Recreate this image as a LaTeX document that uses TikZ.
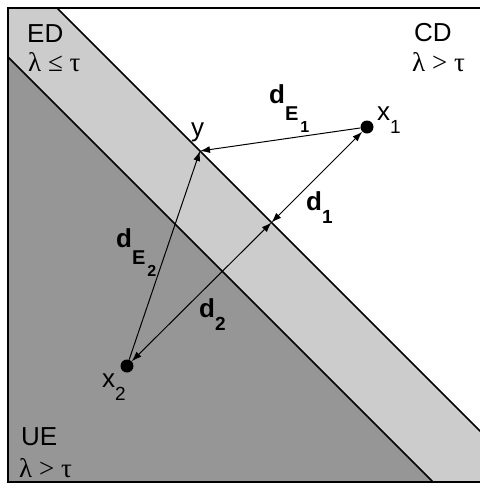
\documentclass[tikz,border=0pt]{standalone}
\usepackage{fontspec}
\setmainfont{Liberation Sans}
\newfontfamily\grk{Liberation Serif}
\usetikzlibrary{arrows.meta}
\definecolor{lightband}{gray}{0.8}
\definecolor{darkreg}{gray}{0.59}
\newcommand{\subE}[1]{\raisebox{-17pt}{\fontsize{20}{20}\selectfont E\hspace{2pt}\raisebox{-12pt}{\fontsize{16}{16}\selectfont #1}}}
\newcommand{\subN}[1]{\raisebox{-13pt}{\fontsize{19}{19}\selectfont #1}}
\begin{document}
\begin{tikzpicture}[x=1pt,y=-1pt,
  lab/.style={anchor=base west,inner sep=0pt,font=\fontsize{26}{26}\selectfont},
  glab/.style={anchor=base west,inner sep=0pt,font=\fontsize{27}{27}\selectfont\grk},
  dlab/.style={anchor=base west,inner sep=0pt,font=\fontsize{26}{26}\selectfont\bfseries},
  conn/.style={line width=1pt,-{Latex[length=10pt,width=7pt]}},
  both/.style={line width=1pt,{Latex[length=10pt,width=7pt]}-{Latex[length=10pt,width=7pt]}},
  dot/.style={circle,fill=black,inner sep=0pt,minimum size=13pt}]
\useasboundingbox (0,0) rectangle (480,483);
\begin{scope}
\clip (8,8) rectangle (480,482);
\fill[white] (8,8) rectangle (480,482);
\fill[lightband] (57,8) -- (480,431) -- (480,482) -- (433,482) -- (8,57) -- (8,8) -- cycle;
\fill[darkreg] (8,57) -- (433,482) -- (8,482) -- cycle;
\draw[line width=1.5pt] (57,8) -- (490,441);
\draw[line width=1.5pt] (8,57) -- (433,482);
\end{scope}
\draw[line width=2pt] (490,8) -- (8,8) -- (8,482) -- (490,482);
% region labels
\node[lab] (ed) at (27,42) {ED};
\node[glab] (edc) at (28,71) {λ ≤ τ};
\node[lab] (cd) at (414,41) {CD};
\node[glab] (cdc) at (412,71) {λ > τ};
\node[lab] (ue) at (21,445) {UE};
\node[glab] (uec) at (19,477) {λ > τ};
% points
\node[dot] (x1) at (367,127) {};
\node[dot] (x2) at (127,366) {};
\coordinate (f) at (271.5,222.5);
\coordinate (yp) at (200,151);
% connectors
\draw[both] (x1) -- (f);
\draw[both] (x2) -- (f);
\draw[conn] (x1) -- (yp);
\draw[conn] (x2) -- (yp);
% point labels
\node[lab] (ylab) at (191,136) {y};
\node[lab] (x1lab) at (377,120) {x\subN{1}};
\node[lab] (x2lab) at (102,387) {x\subN{2}};
% distance labels
\node[dlab] (de1) at (269,103) {d\subE{1}};
\node[dlab] (d1) at (306,210) {d\subN{1}};
\node[dlab] (de2) at (116,247) {d\subE{2}};
\node[dlab] (d2) at (199,317) {d\subN{2}};
\end{tikzpicture}
\end{document}
